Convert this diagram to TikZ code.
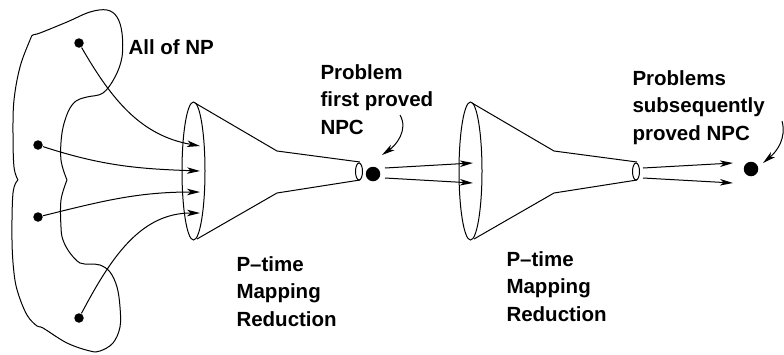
\documentclass[tikz,border=0pt]{standalone}
\usepackage{fontspec}
\setmainfont{Liberation Sans}
\usepackage{tikz}
\usetikzlibrary{arrows.meta}
\tikzset{
  dot/.style={circle,fill=black,inner sep=0pt,minimum size=9.5pt},
  bigdot/.style={circle,fill=black,inner sep=0pt,minimum size=14.5pt},
  lbl/.style={inner sep=0pt,align=left,font=\bfseries\fontsize{20.5}{27.5}\selectfont},
}

\begin{document}
\begin{tikzpicture}[x=1pt,y=-1pt,line width=1pt,
    >={Stealth[length=13pt,width=6.5pt,inset=3.5pt]}]
            \useasboundingbox (0,0) rectangle (784,354);
            % the set NP
            \draw plot[smooth,tension=0.6] coordinates {(18,180) (14,167) (13,133) (14,100) (20,67) (30,40) (33,35)
                (40,33) (67,22) (90,12) (107,10) (117,17) (122,33) (122,57) (115,77) (103,93) (87,97)
                (76,101) (68,112) (62,133) (61,160) (67,180)};
            \draw plot[smooth,tension=0.6] coordinates {(67,180) (61,200) (61,227) (63,240) (70,253) (80,263)
                (90,264) (100,265) (110,272) (117,287) (120,307) (120,327) (113,343) (100,351) (90,351)
                (67,343) (43,328) (37,326) (27,315) (18,293) (14,273) (12,240) (13,193) (18,180)};
            \node[dot] (p1) at (79,43) {};
            \node[dot] (p2) at (38,145) {};
            \node[dot] (p3) at (38,217) {};
            \node[dot] (p4) at (79,318) {};
            \node[lbl,anchor=west] (np) at (128,47) {All of NP};

            % first funnel
            \draw (193.5,171) ellipse [x radius=11.5, y radius=69];
            \draw (195,103) -- (277,151) -- (360,162);
            \draw (197,239) -- (277,193) -- (360,180);
            \draw (359,171.5) ellipse [x radius=3.5, y radius=8.5];
            \coordinate (t1) at (200,146);
            \coordinate (t2) at (200,171);
            \coordinate (t3) at (200,192);
            \coordinate (t4) at (200,213);
            \draw [->] (p1) to[out=-60,in=170] (t1);
            \draw [->] (p2) to[out=-18,in=178] (t2);
            \draw [->] (p3) to[out=14,in=180] (t3);
            \draw [->] (p4) to[out=62,in=180] (t4);
            \node[lbl,anchor=north west] (red1) at (236,256) {P--time\\Mapping\\Reduction};

            % first NPC problem
            \node[bigdot] (npc1) at (373,174) {};
            \node[lbl,anchor=north west] (first) at (320,64) {Problem\\first proved\\NPC};
            \coordinate (c1) at (400,115);
            \coordinate (c2) at (382,155);
            \draw [->] (c1) to[out=-60,in=35] (c2);

            % second funnel
            \draw (470.5,171) ellipse [x radius=11.5, y radius=69];
            \draw (472,103) -- (554,151) -- (637,162);
            \draw (474,239) -- (554,193) -- (637,180);
            \draw (636,171.5) ellipse [x radius=3.5, y radius=8.5];
            \coordinate (s1) at (385,168);
            \coordinate (s2) at (385,178);
            \coordinate (e1) at (473,163);
            \coordinate (e2) at (473,183);
            \draw [->] (s1) -- (e1);
            \draw [->] (s2) -- (e2);
            \node[lbl,anchor=north west] (red2) at (506,251) {P--time\\Mapping\\Reduction};

            % later NPC problems
            \node[bigdot] (npc2) at (751,169) {};
            \coordinate (s3) at (643,168);
            \coordinate (s4) at (643,178);
            \coordinate (e3) at (733,163);
            \coordinate (e4) at (733,183);
            \draw [->] (s3) -- (e3);
            \draw [->] (s4) -- (e4);
            \node[lbl,anchor=north west] (later) at (632,70) {Problems\\subsequently\\proved NPC};
            \coordinate (c3) at (782,121);
            \coordinate (c4) at (763,163);
            \draw [->] (c3) to[out=-75,in=40] (c4);
        \end{tikzpicture}
\end{document}
